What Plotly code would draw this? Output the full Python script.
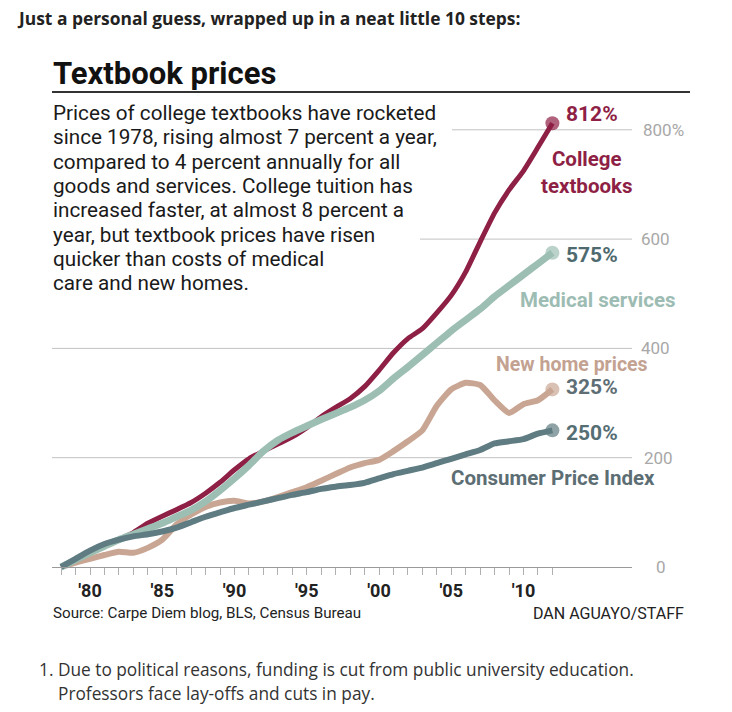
import plotly.graph_objects as go

# ---------------- data ----------------
years = list(range(1978, 2013))
textbooks = [0, 12, 25, 38, 50, 63, 80, 93, 105, 118, 135, 155, 178, 198, 212, 225, 238, 255, 275, 292,
             308, 330, 360, 392, 418, 436, 465, 497, 540, 595, 648, 690, 725, 768, 812]
medical = [0, 13, 26, 38, 50, 60, 70, 80, 92, 104, 120, 140, 162, 186, 212, 232, 246, 258, 270, 281,
           292, 305, 322, 345, 366, 388, 410, 432, 452, 472, 495, 515, 535, 555, 575]
new_homes = [0, 8, 15, 22, 28, 26, 35, 50, 78, 96, 110, 118, 121, 116, 120, 128, 137, 146, 158, 170,
             182, 190, 196, 212, 230, 250, 295, 325, 337, 333, 305, 282, 298, 305, 325]
cpi = [0, 15, 30, 42, 50, 56, 60, 65, 72, 82, 92, 100, 108, 114, 120, 126, 132, 137, 143, 147,
       150, 154, 162, 170, 176, 182, 190, 198, 206, 214, 226, 230, 234, 244, 250]

grid_vals = [0, 200, 400, 600, 800]
grid_labels = ["0", "200", "400", "600", "800%"]
tick_years = years
tick_labels = ["<b>'" + str(y)[2:] + "</b>" if y % 5 == 0 else "" for y in years]

body_lines = [
    "Prices of college textbooks have rocketed",
    "since 1978, rising almost 7 percent a year,",
    "compared to 4 percent annually for all",
    "goods and services. College tuition has",
    "increased faster, at almost 8 percent a",
    "year, but textbook prices have risen",
    "quicker than costs of medical",
    "care and new homes.",
]

# ---------------- geometry ----------------
W, H = 732, 712
L, R, T, B = 52, 632, 95, 580
Y0PX = 567.0
PPU = 109.3 / 200.0
X80 = 90.0
PPY = 14.45
ymin = -(B - Y0PX) / PPU
ymax = (Y0PX - T) / PPU
xmin = 1980 - (X80 - L) / PPY
xmax = 1980 + (R - X80) / PPY


def px(xp):
    return (xp - L) / (R - L)


def py(yp):
    return (B - yp) / (B - T)


COND = "Roboto, sans-serif"
UI = "Open Sans, Noto Sans, sans-serif"

C_TB = "#8E1F45"
C_MED = "#9DBFB3"
C_HOME = "#C9A693"
C_CPI = "#5F7C82"

fig = go.Figure()

series = [
    (new_homes, C_HOME, 6),
    (textbooks, C_TB, 5),
    (medical, C_MED, 7),
    (cpi, C_CPI, 6),
]
for vals, col, w in series:
    fig.add_trace(go.Scatter(
        x=years, y=vals, mode="lines+markers",
        line=dict(color=col, width=w, shape="spline", smoothing=0.5),
        marker=dict(size=[0] * (len(vals) - 1) + [14], color=col, line=dict(width=0)),
        hoverinfo="skip", showlegend=False, cliponaxis=False,
    ))

shapes = []
grid_start = [L, L, L, 420, 452]
for gv, gs in zip(grid_vals, grid_start):
    if gv == 0:
        continue
    shapes.append(dict(type="line", xref="paper", yref="y", x0=px(gs), x1=px(R), y0=gv, y1=gv,
                       line=dict(color="#c2c2c2", width=1), layer="below"))
# rule under title
shapes.append(dict(type="line", xref="paper", yref="paper", x0=px(52), x1=px(690), y0=py(92), y1=py(92),
                   line=dict(color="#333333", width=2)))

ann = []
# page header
ann.append(dict(text="<b>Just a personal guess, wrapped up in a neat little 10 steps:</b>", x=px(15), y=py(18),
                xanchor="left", yanchor="middle", font=dict(family=UI, size=17.4, color="#222")))
# chart title
ann.append(dict(text="<b>Textbook prices</b>", x=px(51), y=py(74), xanchor="left", yanchor="middle",
                font=dict(family=COND, size=31, color="#111")))
# body text
for i, line in enumerate(body_lines):
    ann.append(dict(text=line, x=px(51), y=py(113 + i * 24.3), xanchor="left", yanchor="middle",
                    font=dict(family=COND, size=20.7, color="#1a1a1a")))

# y labels
ylab_x = [661, 658, 655, 655, 663]
for gv, gl, gx in zip(grid_vals, grid_labels, ylab_x):
    ann.append(dict(text=gl, xref="paper", yref="y", x=px(gx), y=gv, xanchor="center", yanchor="middle",
                    font=dict(family=COND, size=17, color="#a8a8a8")))

# end value labels
end_specs = [
    (textbooks, C_TB, 9),
    (medical, "#4E6A6E", -2),
    (new_homes, "#5E6E74", 2),
    (cpi, "#556E74", -3),
]
for vals, col, ys in end_specs:
    ann.append(dict(text="<b>%d%%</b>" % vals[-1], xref="x", yref="y", x=years[-1], y=vals[-1],
                    xanchor="left", yanchor="middle", xshift=12, yshift=ys,
                    font=dict(family=COND, size=21, color=col)))

# series labels
series_labels = [
    ("College<br>textbooks", 587, 172.5, C_TB, 20.5),
    ("Medical services", 598, 300, "#9DBCB3", 20.5),
    ("New home prices", 572, 364, "#C4A292", 19.5),
    ("Consumer Price Index", 553, 478, "#5C6E73", 20.5),
]
for txt, xx, yy, col, fs in series_labels:
    ann.append(dict(text="<b>%s</b>" % txt, x=px(xx), y=py(yy), xanchor="center", yanchor="middle",
                    font=dict(family=COND, size=fs, color=col)))

# source and credit
ann.append(dict(text="Source: Carpe Diem blog, BLS, Census Bureau", x=px(51), y=py(613), xanchor="left",
                yanchor="middle", font=dict(family=COND, size=15.2, color="#222")))
ann.append(dict(text="DAN AGUAYO/STAFF", x=px(686), y=py(613), xanchor="right",
                yanchor="middle", font=dict(family=COND, size=16, color="#222")))

# note below
ann.append(dict(text="1. Due to political reasons, funding is cut from public university education.",
                x=px(37), y=py(669), xanchor="left", yanchor="middle",
                font=dict(family=UI, size=17.3, color="#333")))
ann.append(dict(text="Professors face lay-offs and cuts in pay.",
                x=px(56), y=py(693), xanchor="left", yanchor="middle",
                font=dict(family=UI, size=17.3, color="#333")))

for a in ann:
    a.setdefault("xref", "paper")
    a.setdefault("yref", "paper")
    a["showarrow"] = False

fig.update_layout(
    width=W, height=H,
    margin=dict(l=L, r=W - R, t=T, b=H - B, pad=0),
    paper_bgcolor="white", plot_bgcolor="white",
    xaxis=dict(range=[xmin, xmax], anchor="free", position=(B - Y0PX) / (B - T),
               showgrid=False, zeroline=False, showline=True, linecolor="#9a9a9a", linewidth=1.2,
               ticks="outside", ticklen=7, tickwidth=1, tickcolor="#b0b0b0",
               tickvals=tick_years, ticktext=tick_labels,
               tickfont=dict(family=COND, size=18, color="#222"), tickangle=0),
    yaxis=dict(range=[ymin, ymax], visible=False),
    shapes=shapes, annotations=ann,
)

fig.write_html("out.html")
